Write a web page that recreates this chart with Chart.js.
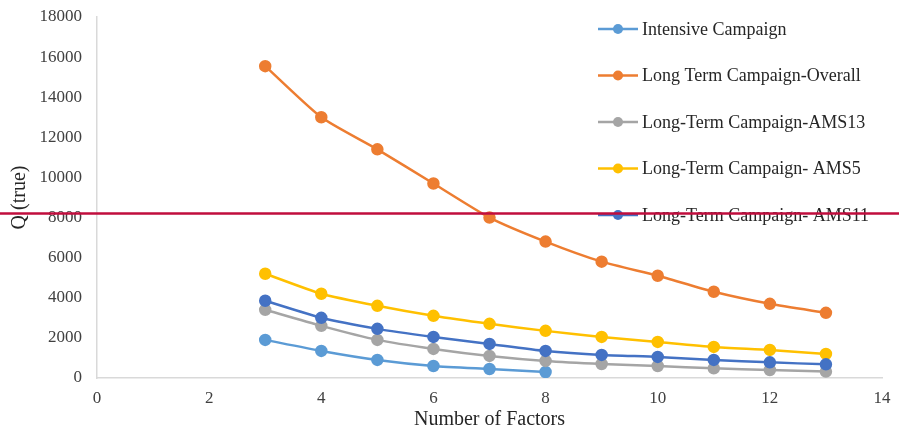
<!DOCTYPE html>
<html>
<head>
<meta charset="utf-8">
<script src="https://cdn.jsdelivr.net/npm/chart.js@4/dist/chart.umd.min.js"></script>
<style>
  html, body { margin: 0; padding: 0; background: #fff; }
  #wrap { width: 899px; height: 432px; }
</style>
</head>
<body>
<div id="wrap"><canvas id="factorChart" width="899" height="432"></canvas></div>
<script>
// Number of factors (x) and Q(true) values
const factors = [3, 4, 5, 6, 7, 8, 9, 10, 11, 12, 13];
const intensive = [1900, 1350, 900, 600, 450, 300];
const longOverall = [15550, 13000, 11400, 9700, 8000, 6800, 5800, 5100, 4300, 3700, 3250];
const longAms13 = [3400, 2600, 1900, 1450, 1100, 850, 700, 600, 480, 400, 320];
const longAms5 = [5200, 4200, 3600, 3100, 2700, 2350, 2050, 1800, 1550, 1400, 1200];
const longAms11 = [3850, 3000, 2450, 2050, 1700, 1350, 1150, 1050, 900, 780, 680];

const seriesNames = [
  'Intensive Campaign',
  'Long Term Campaign-Overall',
  'Long-Term Campaign-AMS13',
  'Long-Term Campaign- AMS5',
  'Long-Term Campaign- AMS11'
];
const seriesColors = ['#5B9BD5', '#ED7D31', '#A5A5A5', '#FFC000', '#4472C4'];
const seriesValues = [intensive, longOverall, longAms13, longAms5, longAms11];

const xTicks = [0, 2, 4, 6, 8, 10, 12, 14];
const yTicks = [0, 2000, 4000, 6000, 8000, 10000, 12000, 14000, 16000, 18000];
const thresholdValue = 8200; // red horizontal marker line

const serif = "'Liberation Serif', 'Times New Roman', serif";

const datasets = seriesValues.map((vals, i) => ({
  label: seriesNames[i],
  data: vals.map((v, j) => ({ x: factors[j], y: v })),
  borderColor: seriesColors[i],
  backgroundColor: seriesColors[i],
  pointBackgroundColor: seriesColors[i],
  pointBorderColor: seriesColors[i],
  borderWidth: 2.5,
  pointRadius: 5,
  tension: 0.2,
  order: seriesNames.length - i // later series drawn on top, like Excel
}));

// Legend drawn inside the plot, Excel style (line with dot)
const legendPlugin = {
  id: 'excelLegend',
  afterDatasetsDraw(chart) {
    const ctx = chart.ctx;
    ctx.save();
    ctx.font = '18px ' + serif;
    ctx.textBaseline = 'middle';
    seriesNames.forEach((name, i) => {
      const y = 29 + i * 46.5;
      ctx.strokeStyle = seriesColors[i];
      ctx.lineWidth = 2.5;
      ctx.beginPath();
      ctx.moveTo(598, y);
      ctx.lineTo(638, y);
      ctx.stroke();
      ctx.fillStyle = seriesColors[i];
      ctx.beginPath();
      ctx.arc(618, y, 5, 0, Math.PI * 2);
      ctx.fill();
      ctx.fillStyle = '#262626';
      ctx.fillText(name, 642, y + 1);
    });
    ctx.restore();
  }
};

// Red threshold line across the whole picture
const thresholdPlugin = {
  id: 'thresholdLine',
  afterDraw(chart) {
    const y = chart.scales.y.getPixelForValue(thresholdValue);
    const ctx = chart.ctx;
    ctx.save();
    ctx.strokeStyle = '#C00D3D';
    ctx.lineWidth = 2.5;
    ctx.beginPath();
    ctx.moveTo(0, y);
    ctx.lineTo(chart.width, y);
    ctx.stroke();
    ctx.restore();
  }
};

const plain = v => String(v);

const ctx = document.getElementById('factorChart').getContext('2d');
new Chart(ctx, {
  type: 'line',
  data: { datasets: datasets },
  plugins: [legendPlugin, thresholdPlugin],
  options: {
    responsive: false,
    animation: false,
    layout: { padding: { left: 0, right: 17, top: 17, bottom: 0 } },
    plugins: {
      legend: { display: false },
      tooltip: { enabled: false }
    },
    scales: {
      x: {
        type: 'linear',
        min: 0,
        max: 14,
        afterBuildTicks: axis => { axis.ticks = xTicks.map(v => ({ value: v })); },
        afterFit: axis => {
          axis.height = 54;
          axis.paddingLeft = 0;
          axis.paddingRight = 0;
        },
        grid: { display: false, drawTicks: false },
        border: { display: true, color: '#D9D9D9', width: 1.5 },
        ticks: { padding: 10, color: '#404040', callback: plain, font: { family: serif, size: 17 } },
        title: {
          display: true,
          text: 'Number of Factors',
          color: '#262626',
          padding: { top: 0, bottom: 0 },
          font: { family: serif, size: 20 }
        }
      },
      y: {
        min: 0,
        max: 18000,
        afterBuildTicks: axis => { axis.ticks = yTicks.map(v => ({ value: v })); },
        afterFit: axis => {
          axis.width = 97;
          axis.paddingTop = 0;
          axis.paddingBottom = 0;
        },
        grid: { display: false, drawTicks: false },
        border: { display: true, color: '#D9D9D9', width: 1.5 },
        ticks: { padding: 15, color: '#404040', callback: plain, font: { family: serif, size: 17 } },
        title: {
          display: true,
          text: 'Q (true)',
          color: '#262626',
          padding: { top: 8, bottom: 0 },
          font: { family: serif, size: 20 }
        }
      }
    }
  }
});
</script>
</body>
</html>
